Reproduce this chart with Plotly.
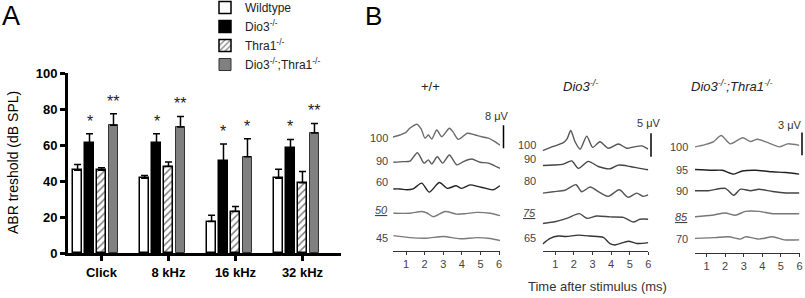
import plotly.graph_objects as go

W, H = 805, 298
FONT = "Liberation Sans, Arial, sans-serif"


def px(x):
    return x / W


def py(y):
    return 1 - y / H


# ---------------- Panel A data ----------------
categories = ["Click", "8 kHz", "16 kHz", "32 kHz"]
genotypes = ["Wildtype", "Dio3<sup>-/-</sup>", "Thra1<sup>-/-</sup>",
             "Dio3<sup>-/-</sup>;Thra1<sup>-/-</sup>"]
wt_mean = [46, 41.5, 17.5, 41.5]
wt_sem = [3.2, 1.6, 3.5, 5.0]
dio3_mean = [61, 61, 51, 58.5]
dio3_sem = [5.2, 5.3, 9.5, 4.6]
thra1_mean = [46, 48, 23, 39]
thra1_sem = [1.3, 2.6, 2.8, 6.3]
dko_mean = [71, 70, 53.5, 66.7]
dko_sem = [6.3, 5.9, 10.0, 5.3]
dio3_sig = ["*", "*", "*", "*"]
dko_sig = ["**", "**", "*", "**"]
y_ticks = [0, 20, 40, 60, 80, 100]

# ---------------- Panel B data (time in ms, amplitude in µV) ----------------
time_ticks = [1, 2, 3, 4, 5, 6]

wt_title = "+/+"
wt_levels = ["100", "90", "60", "<i><u>50</u></i>", "45"]
wt_scale_uv = 8
wt_t = [
    [0.30, 0.68, 0.95, 1.22, 1.58, 1.81, 2.02, 2.20, 2.38, 2.65, 2.92, 3.33, 3.53, 3.81, 4.30, 4.71, 5.07, 5.42, 5.73, 6.05],
    [0.32, 0.85, 1.22, 1.61, 1.97, 2.20, 2.38, 2.68, 2.97, 3.33, 3.73, 4.08, 4.53, 4.98, 5.42, 6.05],
    [0.32, 0.68, 1.04, 1.38, 1.84, 2.25, 2.79, 3.22, 3.69, 3.99, 4.44, 4.89, 5.30, 5.69, 6.05],
    [0.32, 1.22, 1.84, 2.13, 2.47, 3.10, 3.73, 4.23, 4.80, 5.52, 6.05],
    [0.32, 1.22, 2.11, 3.01, 3.90, 4.80, 5.52, 6.05],
]
wt_uv = [
    [0, 0.7, 1.4, 3.1, 4.4, 2.8, -0.4, 0.7, -0.7, 2.4, 0.1, 3.0, 1.7, -0.8, 1.3, 0.7, 0.1, -0.4, -1.4, -2.8],
    [0, 0.2, 0.4, 3.3, -0.3, 0.8, -0.6, 1.9, -0.3, 2.5, -0.9, 0.2, 1.1, 0, -0.3, -2.1],
    [0, 0, -0.3, 0, 2.0, -1.1, 2.2, 0.2, 1.1, 0.2, 1.4, 0.8, 0.2, -0.3, 1.1],
    [0, 0, 0.6, 0.1, -1.2, 0.6, -0.3, -0.1, 0.3, 0, -0.8],
    [0, -0.7, -0.9, -0.3, -1.1, -0.7, -1.0, -1.7],
]

dio3_title = "<i>Dio3<sup>-/-</sup></i>"
dio3_levels = ["100", "90", "80", "<i><u>75</u></i>", "65"]
dio3_scale_uv = 5
dio3_t = [
    [0.32, 0.89, 1.43, 1.63, 1.83, 2.06, 2.33, 2.69, 3.01, 3.40, 3.85, 4.39, 4.84, 5.23, 5.65, 6.00],
    [0.32, 0.89, 1.43, 1.88, 2.24, 2.77, 3.31, 3.94, 4.39, 5.02, 5.55, 6.00],
    [0.32, 0.89, 1.52, 2.11, 2.42, 2.87, 3.40, 3.85, 4.44, 4.92, 5.38, 5.73, 6.00],
    [0.32, 0.89, 1.61, 2.29, 2.69, 3.23, 3.94, 4.66, 5.19, 5.55, 6.00],
    [0.32, 0.72, 1.16, 1.58, 2.24, 2.87, 3.58, 3.94, 4.21, 4.93, 5.38, 6.00],
]
dio3_uv = [
    [0, 0.9, 1.7, 2.5, 4.3, 1.9, 0.3, 3.1, 0.7, 1.9, 0.5, 1.4, 0.5, 0.8, 1.0, 0.3],
    [0, 0.1, 0.3, 1.0, -0.6, 0.9, -0.2, -0.7, 0.1, -0.2, -0.6, -0.9],
    [0, 0.3, 0.6, 1.8, 0.3, 1.3, 0.1, -0.7, 0.7, -0.9, 0, -0.7, -0.4],
    [0, 0.3, 1.1, 2.1, 1.1, 1.6, 1.4, 1.3, 0.3, 0.9, 0.9],
    [0, 1.2, 1.7, 1.6, 1.9, 1.7, 1.4, 0.1, -0.2, 0.6, 0.1, 0.3],
]

dko_title = "<i>Dio3<sup>-/-</sup>;Thra1<sup>-/-</sup></i>"
dko_levels = ["100", "95", "90", "<i><u>85</u></i>", "70"]
dko_scale_uv = 3
dko_t = [
    [0.38, 0.92, 1.38, 1.79, 2.28, 2.95, 3.37, 3.73, 4.36, 4.91, 5.36, 5.99],
    [0.38, 1.29, 1.85, 2.46, 2.92, 3.64, 4.55, 5.27, 5.99],
    [0.38, 1.10, 2.01, 2.46, 2.83, 3.37, 3.82, 4.55, 5.27, 5.99],
    [0.38, 1.29, 2.01, 2.55, 3.10, 3.82, 4.55, 5.27, 5.99],
    [0.38, 1.47, 2.19, 2.83, 3.10, 3.82, 4.55, 5.18, 5.99],
]
dko_uv = [
    [0, 0.3, 0.7, 1.5, 0.4, 1.2, 0.7, 1.0, 0.5, 0, 0.4, 0.2],
    [0, -0.1, -0.1, -0.6, -0.2, -0.1, -0.3, -0.4, -0.6],
    [0, 0, 0.3, -0.6, 0.2, 0, 0.2, -0.1, -0.3, -0.3],
    [0, 0.2, 0.5, 0.2, 0.7, 0.7, 0.4, 0.4, 0.4],
    [0, 0.1, 0.2, -0.1, 0.2, -0.1, 0.2, -0.2, -0.2],
]

# ---------------- layout / style constants ----------------
bar_offsets = [-0.357, -0.179, 0.0, 0.179]
bar_width = 0.142

fig = go.Figure()

series = [
    (genotypes[0], wt_mean, wt_sem, dict(color="white", line=dict(color="black", width=1.5))),
    (genotypes[1], dio3_mean, dio3_sem, dict(color="black", line=dict(color="black", width=1.5))),
    (genotypes[2], thra1_mean, thra1_sem,
     dict(color="white", line=dict(color="black", width=1.5),
          pattern=dict(shape="/", fgcolor="black", bgcolor="white", size=5, solidity=0.3))),
    (genotypes[3], dko_mean, dko_sem, dict(color="#808080", line=dict(color="#333333", width=1))),
]
for k, (name, mean, sem, marker) in enumerate(series):
    fig.add_trace(go.Bar(
        x=[i + bar_offsets[k] for i in range(len(categories))],
        y=mean, width=bar_width, name=name, marker=marker,
        error_y=dict(type="data", symmetric=False, array=sem, arrayminus=[0] * len(sem),
                     color="black", thickness=1.5, width=3.5),
        xaxis="x", yaxis="y", showlegend=True, hoverinfo="skip",
    ))

annotations = []
for k, mean, sem, sig in [(1, dio3_mean, dio3_sem, dio3_sig), (3, dko_mean, dko_sem, dko_sig)]:
    for i in range(len(categories)):
        annotations.append(dict(
            x=i + bar_offsets[k], y=mean[i] + sem[i], xref="x", yref="y",
            text=sig[i], showarrow=False, yanchor="bottom", yshift=2,
            font=dict(family=FONT, size=16, color="#222222")))

# ---------------- Panel B traces ----------------
panels = [
    dict(title=wt_title, levels=wt_levels, t=wt_t, uv=wt_uv, scale=wt_scale_uv, ax=2,
         xd=(393, 500), xr=(0.30, 6.05), axis_px=250.7, ppu=2.9,
         offsets=[39.2, 30.5, 21.3, 12.9, 5.2],
         lab_x=390, lab_y=[137.7, 161, 181.7, 210, 238], title_x=430,
         sb_x=503.5, sb_base=35.3, sbl_x=497, sbl_y=116,
         colors=["#6a6a6a", "#5a5a5a", "#222222", "#7a7a7a", "#7a7a7a"]),
    dict(title=dio3_title, levels=dio3_levels, t=dio3_t, uv=dio3_uv, scale=dio3_scale_uv, ax=3,
         xd=(542.7, 648.3), xr=(0.32, 6.0), axis_px=251, ppu=4.67,
         offsets=[21.5, 18.3, 12.4, 5.9, 1.5],
         lab_x=538, lab_y=[145, 159, 180.7, 213, 238], title_x=580,
         sb_x=651, sb_base=20.2, sbl_x=649, sbl_y=123,
         colors=["#555555", "#444444", "#555555", "#484848", "#333333"]),
    dict(title=dko_title, levels=dko_levels, t=dko_t, uv=dko_uv, scale=dko_scale_uv, ax=4,
         xd=(695, 799.5), xr=(0.38, 6.0), axis_px=252.7, ppu=7.56,
         offsets=[14.0, 11.0, 8.2, 4.76, 1.9],
         lab_x=690, lab_y=[147.3, 170, 190.7, 216.7, 239.3], title_x=732,
         sb_x=802, sb_base=12.9, sbl_x=790, sbl_y=125,
         colors=["#7a7a7a", "#222222", "#444444", "#777777", "#777777"]),
]

TOP_PX = 105
shapes = []
layout_axes = {}
for p in panels:
    ax = p["ax"]
    for r in range(len(p["t"])):
        fig.add_trace(go.Scatter(
            x=p["t"][r], y=[v + p["offsets"][r] for v in p["uv"][r]],
            mode="lines", line=dict(color=p["colors"][r], width=1.4, shape="spline", smoothing=0.7),
            xaxis=f"x{ax}", yaxis=f"y{ax}", showlegend=False, hoverinfo="skip"))
        annotations.append(dict(
            x=px(p["lab_x"]), y=py(p["lab_y"][r]), xref="paper", yref="paper",
            text=p["levels"][r], showarrow=False, xanchor="right", yanchor="middle",
            font=dict(family=FONT, size=11, color="#444444")))
    y_top = (p["axis_px"] - TOP_PX) / p["ppu"]
    layout_axes[f"xaxis{ax}"] = dict(
        domain=[px(p["xd"][0]), px(p["xd"][1])], range=list(p["xr"]), anchor=f"y{ax}",
        showline=True, linecolor="#333333", linewidth=1, ticks="outside", ticklen=3,
        tickcolor="#333333", tickvals=time_ticks, showgrid=False, zeroline=False,
        tickfont=dict(family=FONT, size=11, color="#444444"))
    layout_axes[f"yaxis{ax}"] = dict(
        domain=[py(p["axis_px"]), py(TOP_PX)], range=[0, y_top], anchor=f"x{ax}",
        visible=False, showgrid=False, zeroline=False)
    shapes.append(dict(type="line", xref="paper", yref=f"y{ax}",
                       x0=px(p["sb_x"]), x1=px(p["sb_x"]),
                       y0=p["sb_base"], y1=p["sb_base"] + p["scale"],
                       line=dict(color="black", width=1.5)))
    annotations.append(dict(
        x=px(p["sbl_x"]), y=py(p["sbl_y"]), xref="paper", yref="paper",
        text=f"{p['scale']} μV", showarrow=False, xanchor="center", yanchor="middle",
        font=dict(family=FONT, size=11, color="#333333")))
    annotations.append(dict(
        x=px(p["title_x"]), y=py(86), xref="paper", yref="paper",
        text=p["title"], showarrow=False, xanchor="center", yanchor="middle",
        font=dict(family=FONT, size=13, color="#222222")))

annotations += [
    dict(x=px(11), y=py(16), xref="paper", yref="paper", text="A", showarrow=False,
         xanchor="center", yanchor="middle", font=dict(family=FONT, size=27, color="black")),
    dict(x=px(373), y=py(16), xref="paper", yref="paper", text="B", showarrow=False,
         xanchor="center", yanchor="middle", font=dict(family=FONT, size=26, color="black")),
    dict(x=px(13), y=py(163), xref="paper", yref="paper", text="ABR treshold (dB SPL)",
         showarrow=False, textangle=-90, xanchor="center", yanchor="middle",
         font=dict(family=FONT, size=14, color="black")),
    dict(x=px(597), y=py(286), xref="paper", yref="paper", text="Time after stimulus (ms)",
         showarrow=False, xanchor="center", yanchor="middle",
         font=dict(family=FONT, size=13, color="#333333")),
]

fig.update_layout(
    width=W, height=H, margin=dict(l=0, r=0, t=0, b=0, autoexpand=False),
    paper_bgcolor="white", plot_bgcolor="white",
    barmode="overlay", bargap=0, hovermode=False,
    font=dict(family=FONT),
    xaxis=dict(domain=[px(68), px(341)], range=[-0.5, 3.575], anchor="y",
               tickvals=list(range(len(categories))), ticktext=categories,
               showline=True, linecolor="black", linewidth=3, ticks="outside", ticklen=5,
               tickwidth=2.5, tickcolor="black", showgrid=False, zeroline=False,
               tickfont=dict(family=FONT, size=13, color="black", weight="bold")),
    yaxis=dict(domain=[py(253), py(73)], range=[0, 100], anchor="x",
               tickvals=y_ticks, showline=True, linecolor="black", linewidth=3,
               ticks="outside", ticklen=5, tickwidth=2.5, tickcolor="black",
               showgrid=False, zeroline=False,
               tickfont=dict(family=FONT, size=13, color="black", weight="bold")),
    legend=dict(x=px(205), y=py(-7), xanchor="left", yanchor="top", bgcolor="rgba(0,0,0,0)",
                font=dict(family=FONT, size=12, color="#222222"), tracegroupgap=0),
    shapes=shapes, annotations=annotations,
    **layout_axes,
)

# Remove the default 8 px page margin so the figure fills the window exactly.
fig.write_html("out.html", config={"displayModeBar": False},
               post_script="document.body.style.margin='0';")
